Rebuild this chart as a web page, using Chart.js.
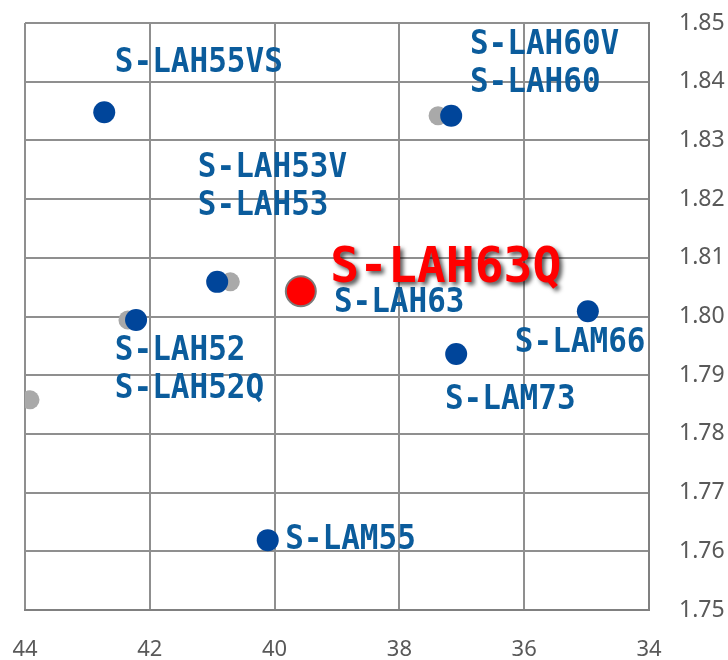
<!DOCTYPE html>
<html>
<head>
<meta charset="utf-8">
<script src="https://cdn.jsdelivr.net/npm/chart.js@4"></script>
<style>
  html, body { margin: 0; padding: 0; background: #fff; }
  #wrap { width: 728px; height: 660px; }
</style>
</head>
<body>
<div id="wrap"><canvas id="glassChart"></canvas></div>
<script>
// Abbe number (x) vs refractive index nd (y)
const blueNames = ['S-LAH55VS', 'S-LAH60', 'S-LAH53', 'S-LAH52', 'S-LAM55', 'S-LAM73', 'S-LAM66'];
const blueX = [42.73, 37.17, 40.92, 42.22, 40.11, 37.09, 34.98];
const blueY = [1.8348, 1.8342, 1.8059, 1.7994, 1.7619, 1.7936, 1.8009];

const grayNames = ['S-LAH60V', 'S-LAH53V', 'S-LAH52Q', 'old'];
const grayX = [37.38, 40.71, 42.35, 43.92];
const grayY = [1.8342, 1.8059, 1.7994, 1.7858];

const redX = [39.58];
const redY = [1.8043];

const xTicks = [44, 42, 40, 38, 36, 34];
const yTicks = [1.75, 1.76, 1.77, 1.78, 1.79, 1.80, 1.81, 1.82, 1.83, 1.84, 1.85];

// label text and where it sits (data units: left edge, middle of first line)
const labelText = [
  ['S-LAH55VS'],
  ['S-LAH60V', 'S-LAH60'],
  ['S-LAH53V', 'S-LAH53'],
  ['S-LAH63'],
  ['S-LAH52', 'S-LAH52Q'],
  ['S-LAM66'],
  ['S-LAM73'],
  ['S-LAM55']
];
const labelX = [42.56, 36.87, 41.23, 39.05, 42.56, 36.15, 37.27, 39.83];
const labelY = [1.8437, 1.8468, 1.8258, 1.8028, 1.7946, 1.7960, 1.7863, 1.7624];

const mainLabel = 'S-LAH63Q';
const mainLabelX = 39.11;
const mainLabelY = 1.8088;

const toPoints = (xs, ys) => xs.map((x, i) => ({ x: x, y: ys[i] }));

const labelPlugin = {
  id: 'glassLabels',
  afterDatasetsDraw(chart) {
    const ctx = chart.ctx;
    const sx = chart.scales.x, sy = chart.scales.y;
    ctx.save();
    ctx.textAlign = 'left';
    ctx.textBaseline = 'middle';
    ctx.fillStyle = '#0b5c9c';
    ctx.font = 'bold 31px "DejaVu Sans Mono"';
    labelText.forEach((lines, i) => {
      const px = sx.getPixelForValue(labelX[i]);
      const py = sy.getPixelForValue(labelY[i]) + 3;
      lines.forEach((t, j) => {
        ctx.save();
        ctx.translate(px, py + j * 38);
        ctx.scale(1, 1.1);
        ctx.fillText(t, 0, 0);
        ctx.restore();
      });
    });

    // highlighted glass
    ctx.save();
    ctx.font = 'bold 48px "DejaVu Sans Mono"';
    ctx.fillStyle = '#ff0000';
    ctx.shadowColor = 'rgba(0,0,0,0.65)';
    ctx.shadowOffsetX = 3;
    ctx.shadowOffsetY = 3;
    ctx.shadowBlur = 4;
    ctx.translate(sx.getPixelForValue(mainLabelX), sy.getPixelForValue(mainLabelY) + 4);
    ctx.scale(1, 1.05);
    ctx.fillText(mainLabel, 0, 0);
    ctx.restore();
    ctx.restore();
  }
};

new Chart(document.getElementById('glassChart'), {
  type: 'scatter',
  data: {
    datasets: [
      {
        label: mainLabel,
        data: toPoints(redX, redY),
        backgroundColor: '#ff0000',
        borderColor: '#7a7a7a',
        borderWidth: 2,
        pointRadius: 15,
        order: 0
      },
      {
        label: 'current',
        data: toPoints(blueX, blueY),
        backgroundColor: '#00459a',
        borderWidth: 0,
        pointRadius: 11,
        order: 1
      },
      {
        label: 'other',
        data: toPoints(grayX, grayY),
        backgroundColor: '#a9a9a9',
        borderWidth: 0,
        pointRadius: 9.5,
        order: 2
      }
    ]
  },
  options: {
    responsive: true,
    maintainAspectRatio: false,
    animation: false,
    layout: { padding: { top: 23, left: 25, right: 0, bottom: 0 } },
    plugins: {
      legend: { display: false },
      tooltip: { enabled: false }
    },
    scales: {
      x: {
        type: 'linear',
        reverse: true,
        min: 34,
        max: 44,
        afterBuildTicks: s => { s.ticks = xTicks.map(v => ({ value: v })); },
        afterFit: s => { s.height = 50; s.paddingLeft = 0; s.paddingRight = 0; },
        border: { color: '#808080', width: 2 },
        grid: { color: '#8f8f8f', lineWidth: 2, drawTicks: false },
        ticks: {
          padding: 27,
          color: '#595959',
          font: { family: '"Noto Sans"', size: 22 },
          maxRotation: 0
        }
      },
      y: {
        type: 'linear',
        position: 'right',
        min: 1.75,
        max: 1.85,
        afterBuildTicks: s => { s.ticks = yTicks.map(v => ({ value: v })); },
        afterFit: s => { s.width = 79; s.paddingTop = 0; s.paddingBottom = 0; },
        border: { color: '#808080', width: 2 },
        grid: { color: '#8f8f8f', lineWidth: 2, drawTicks: false },
        ticks: {
          padding: 30,
          color: '#595959',
          font: { family: '"Noto Sans"', size: 23 },
          callback: v => v.toFixed(2)
        }
      }
    }
  },
  plugins: [labelPlugin]
});
</script>
</body>
</html>
